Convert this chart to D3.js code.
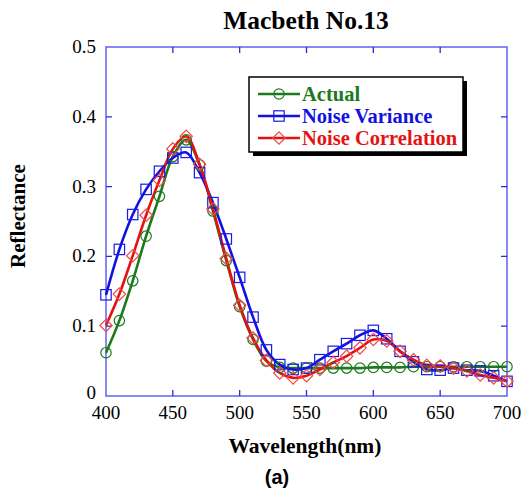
<!DOCTYPE html>
<html>
<head>
<meta charset="utf-8">
<script src="https://cdn.jsdelivr.net/npm/d3@7"></script>
<style>
  body { margin: 0; background: #fff; }
  svg { display: block; }
</style>
</head>
<body>
<svg id="chart"></svg>
<script>
// wavelengths (nm) and the three reflectance curves
const wavelengths = d3.range(400, 701, 10);
const actual = [0.062, 0.108, 0.165, 0.229, 0.286, 0.343, 0.367, 0.331, 0.265, 0.194,
  0.128, 0.081, 0.050, 0.041, 0.040, 0.040, 0.040, 0.040, 0.040, 0.040,
  0.041, 0.041, 0.041, 0.042, 0.042, 0.042, 0.042, 0.042, 0.042, 0.042, 0.042];
const noiseVariance = [0.145, 0.210, 0.260, 0.296, 0.322, 0.341, 0.349, 0.320, 0.277, 0.225,
  0.170, 0.113, 0.066, 0.045, 0.038, 0.040, 0.052, 0.064, 0.075, 0.087,
  0.094, 0.082, 0.064, 0.049, 0.038, 0.037, 0.040, 0.037, 0.036, 0.029, 0.021];
const noiseCorrelation = [0.101, 0.146, 0.201, 0.259, 0.309, 0.354, 0.372, 0.332, 0.268, 0.197,
  0.130, 0.083, 0.051, 0.033, 0.026, 0.029, 0.038, 0.048, 0.057, 0.069,
  0.081, 0.079, 0.064, 0.052, 0.044, 0.043, 0.040, 0.036, 0.030, 0.026, 0.021];
const seriesNames = ['Actual', 'Noise Variance', 'Noise Correlation'];
const xTicks = [400, 450, 500, 550, 600, 650, 700];
const yTicks = [0, 0.1, 0.2, 0.3, 0.4, 0.5];

const W = 528, H = 492;
const margin = { top: 47, right: 21, bottom: 96, left: 106 };
const width = W - margin.left - margin.right;
const height = H - margin.top - margin.bottom;

const svg = d3.select('#chart').attr('width', W).attr('height', H);
const g = svg.append('g').attr('transform', `translate(${margin.left},${margin.top})`);

const x = d3.scaleLinear().domain([400, 700]).range([0, width]);
const y = d3.scaleLinear().domain([0, 0.5]).range([height, 0]);

const frameColor = '#6262ee';
const tickColor = '#2a2ad8';
const serif = '"Liberation Serif", "Times New Roman", serif';

// frame
g.append('rect')
  .attr('width', width).attr('height', height)
  .attr('fill', 'none').attr('stroke', frameColor).attr('stroke-width', 1.5);

// inward ticks on all four sides
const tl = 6;
g.selectAll('.xt').data(xTicks.slice(1, -1)).enter().append('path')
  .attr('d', d => `M${x(d)},${height}v${-tl}M${x(d)},0v${tl}`)
  .attr('stroke', tickColor).attr('stroke-width', 1.3);
g.selectAll('.yt').data(yTicks.slice(1, -1)).enter().append('path')
  .attr('d', d => `M0,${y(d)}h${tl}M${width},${y(d)}h${-tl}`)
  .attr('stroke', tickColor).attr('stroke-width', 1.3);

// tick labels
g.selectAll('.xl').data(xTicks).enter().append('text')
  .attr('x', d => x(d)).attr('y', height + 23)
  .attr('text-anchor', 'middle')
  .style('font-family', serif).style('font-size', '19px')
  .text(d => d);
g.selectAll('.yl').data(yTicks).enter().append('text')
  .attr('x', -10).attr('y', d => d === 0 ? y(d) + 3 : y(d) + 6)
  .attr('text-anchor', 'end')
  .style('font-family', serif).style('font-size', '19px')
  .text(d => d === 0 ? '0' : d.toFixed(1));

// titles
svg.append('text')
  .attr('x', 306).attr('y', 29)
  .attr('text-anchor', 'middle')
  .style('font-family', serif).style('font-weight', 'bold').style('font-size', '25.5px')
  .text('Macbeth No.13');
svg.append('text')
  .attr('x', 305).attr('y', 453)
  .attr('text-anchor', 'middle')
  .style('font-family', serif).style('font-weight', 'bold').style('font-size', '21.5px')
  .text('Wavelength(nm)');
svg.append('text')
  .attr('transform', 'translate(25,216) rotate(-90)')
  .attr('text-anchor', 'middle')
  .style('font-family', serif).style('font-weight', 'bold').style('font-size', '21px')
  .text('Reflectance');
svg.append('text')
  .attr('x', 277).attr('y', 484)
  .attr('text-anchor', 'middle')
  .style('font-family', '"Liberation Sans", Arial, sans-serif').style('font-weight', 'bold').style('font-size', '20px')
  .text('(a)');

// series
const series = [
  { name: seriesNames[0], values: actual, color: '#1c7a1c', marker: 'circle', mcolor: '#1c7a1c' },
  { name: seriesNames[1], values: noiseVariance, color: '#1212e0', marker: 'square', mcolor: '#1a1ae6' },
  { name: seriesNames[2], values: noiseCorrelation, color: '#e61212', marker: 'diamond', mcolor: '#f04848' }
];

const line = d3.line()
  .x((d, i) => x(wavelengths[i]))
  .y(d => y(d))
  .curve(d3.curveCatmullRom);

function drawMarker(sel, type, color) {
  if (type === 'circle') {
    sel.append('circle').attr('r', 5.2);
  } else if (type === 'square') {
    sel.append('rect').attr('x', -5.2).attr('y', -5.2).attr('width', 10.4).attr('height', 10.4);
  } else {
    sel.append('path').attr('d', 'M0,-6.2L6.2,0L0,6.2L-6.2,0Z');
  }
  sel.selectAll('*').attr('fill', 'none').attr('stroke', color).attr('stroke-width', 1.2);
}

series.forEach(s => {
  g.append('path')
    .datum(s.values)
    .attr('d', line)
    .attr('fill', 'none')
    .attr('stroke', s.color)
    .attr('stroke-width', 2.6);
});

series.forEach(s => {
  g.selectAll('.m-' + s.marker).data(s.values).enter().append('g')
    .attr('transform', (d, i) => `translate(${x(wavelengths[i])},${y(d)})`)
    .each(function () { drawMarker(d3.select(this), s.marker, s.mcolor); });
});

// legend
const legend = svg.append('g').attr('transform', 'translate(249,77)');
legend.append('rect')
  .attr('x', 4).attr('y', 4).attr('width', 214).attr('height', 75)
  .attr('fill', '#000');
legend.append('rect')
  .attr('width', 214).attr('height', 75)
  .attr('fill', '#fff').attr('stroke', '#000').attr('stroke-width', 1.5);

const rows = legend.selectAll('.row').data(series).enter().append('g')
  .attr('transform', (d, i) => `translate(0,${17 + i * 22})`);
rows.append('line')
  .attr('x1', 9).attr('x2', 51)
  .attr('stroke', d => d.color).attr('stroke-width', 2.6);
rows.append('g')
  .attr('transform', 'translate(30,0)')
  .each(function (d) { drawMarker(d3.select(this), d.marker, d.mcolor); });
rows.append('text')
  .attr('x', 53).attr('y', 7)
  .style('font-family', serif).style('font-weight', 'bold').style('font-size', '20.5px')
  .attr('fill', d => d.color)
  .text(d => d.name);
</script>
</body>
</html>
